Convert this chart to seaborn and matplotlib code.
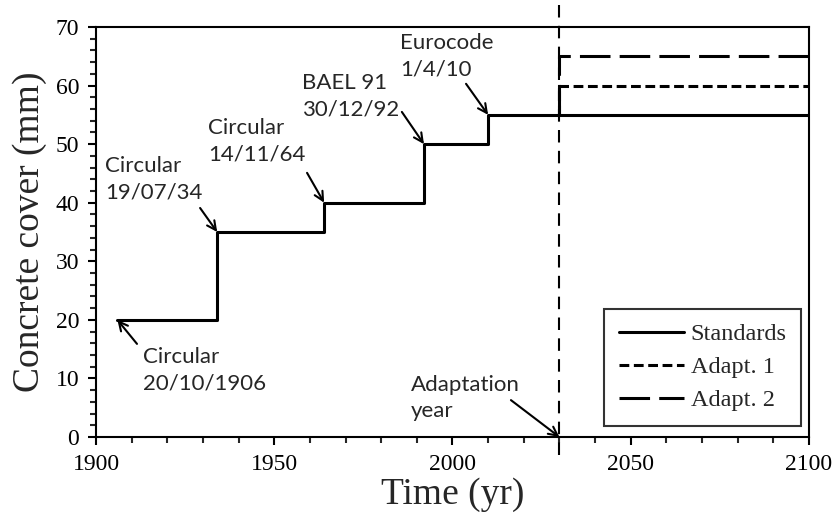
import pandas as pd
import matplotlib
matplotlib.use("Agg")
import matplotlib.pyplot as plt
import seaborn as sns

# Data
std_years = [1906, 1934, 1964, 1992, 2010, 2100]
std_cover = [20, 35, 40, 50, 55, 55]

adapt1_years = [2030, 2030, 2100]
adapt1_cover = [55, 60, 60]

adapt2_years = [2030, 2030, 2100]
adapt2_cover = [55, 65, 65]

adaptation_year = 2030

# annotation labels: (text, text position, arrow tail, arrow tip)
notes = [
    ("Circular\n20/10/1906", (1913.2, 15.4), (1911.5, 15.9), (1906, 20)),
    ("Circular\n19/07/34", (1902.5, 48.0), (1929.2, 39.1), (1934, 35)),
    ("Circular\n14/11/64", (1931.4, 54.5), (1959.2, 45.1), (1964, 40)),
    ("BAEL 91\n30/12/92", (1957.8, 62.2), (1985.8, 55.5), (1992, 50)),
    ("Eurocode\n1/4/10", (1985.3, 69.0), (2003.8, 60.3), (2010, 55)),
    ("Adaptation\nyear", (1988.4, 10.6), (2016.4, 6.3), (2030, 0)),
]

sns.set_style("ticks")
plt.rcParams['font.family'] = ['Liberation Serif', 'DejaVu Serif']

fig = plt.figure(figsize=(8.37, 5.28), dpi=100)
ax = fig.add_axes([0.1147, 0.1723, 0.8518, 0.7766])

df_std = pd.DataFrame({'year': std_years, 'cover': std_cover})
df_a1 = pd.DataFrame({'year': adapt1_years, 'cover': adapt1_cover})
df_a2 = pd.DataFrame({'year': adapt2_years, 'cover': adapt2_cover})

sns.lineplot(data=df_std, x='year', y='cover', ax=ax, color='black', lw=2.2,
             drawstyle='steps-post', estimator=None, sort=False, label='Standards')
sns.lineplot(data=df_a1, x='year', y='cover', ax=ax, color='black', lw=2.2,
             linestyle=(0, (3.2, 1.5)), estimator=None, sort=False, label='Adapt. 1')
sns.lineplot(data=df_a2, x='year', y='cover', ax=ax, color='black', lw=2.2,
             linestyle=(0, (10, 3)), estimator=None, sort=False, label='Adapt. 2')

ax.axvline(adaptation_year, ymin=-0.044, ymax=1.054, color='black', lw=1.5,
           linestyle=(0, (6, 4)), clip_on=False)

for txt, tpos, tail, tip in notes:
    ax.text(tpos[0], tpos[1], txt, family='Lato', fontsize=16, ha='left', va='top',
            linespacing=1.4)
    ax.annotate('', xy=tip, xytext=tail,
                arrowprops=dict(arrowstyle='->', color='black', lw=1.5,
                                shrinkA=0, shrinkB=0, mutation_scale=16))

ax.set_xlim(1900, 2100)
ax.set_ylim(0, 70)
ax.set_xticks([1900, 1950, 2000, 2050, 2100])
ax.set_xticks(range(1900, 2101, 10), minor=True)
ax.set_yticks(range(0, 71, 10))
ax.set_yticks(range(0, 71, 2), minor=True)

for s in ax.spines.values():
    s.set_linewidth(1.5)
    s.set_color('black')

ax.tick_params(which='major', direction='out', length=6, width=1.5, labelsize=17, pad=6,
               colors='black')
ax.tick_params(which='minor', direction='out', length=4.5, width=1.5)

ax.set_xlabel('Time (yr)', fontsize=27, labelpad=2)
ax.set_ylabel('Concrete cover (mm)', fontsize=27, labelpad=6)

leg = ax.legend(loc='lower right', bbox_to_anchor=(0.989, 0.027), borderaxespad=0,
                fontsize=17.5, frameon=True, fancybox=False, edgecolor='black',
                handlelength=2.7, handletextpad=0.25, labelspacing=0.45, borderpad=0.6)
leg.get_frame().set_linewidth(1.5)

fig.savefig('out.png', dpi=100)
